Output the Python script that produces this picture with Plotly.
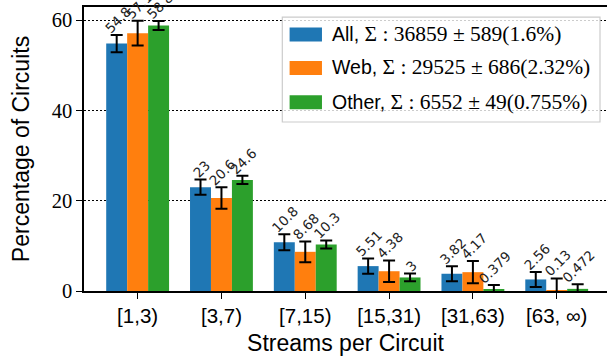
import plotly.graph_objects as go

categories = ["[1,3)", "[3,7)", "[7,15)", "[15,31)", "[31,63)", "[63, ∞)"]
series_names = ["All", "Web", "Other"]
sums = ["Σ : 36859 ± 589(1.6%)", "Σ : 29525 ± 686(2.32%)", "Σ : 6552 ± 49(0.755%)"]

all_vals = [54.8, 23.0, 10.8, 5.51, 3.82, 2.56]
web_vals = [57.1, 20.6, 8.68, 4.38, 4.17, 0.13]
other_vals = [58.8, 24.6, 10.3, 3.0, 0.379, 0.472]

all_labels = ["54.8", "23", "10.8", "5.51", "3.82", "2.56"]
web_labels = ["57.1", "20.6", "8.68", "4.38", "4.17", "0.13"]
other_labels = ["58.8", "24.6", "10.3", "3", "0.379", "0.472"]

all_err = [1.9, 1.7, 1.75, 1.7, 1.65, 1.65]
web_err = [2.75, 2.4, 2.3, 2.4, 2.45, 2.65]
other_err = [1.0, 0.9, 0.9, 0.85, 0.95, 1.0]

colors = ["#1f77b4", "#ff7f0e", "#2ca02c"]

W, H = 607, 364
ML, MR, MT, MB = 83.5, 0, 6.5, 73
PW, PH = W - ML - MR, H - MT - MB


def px2paper(x, y):
    return (x - ML) / PW, (H - MB - y) / PH


SANS = "Liberation Sans"
SERIF = "Liberation Serif"

vals = [all_vals, web_vals, other_vals]
labels = [all_labels, web_labels, other_labels]
errs = [all_err, web_err, other_err]
xs = list(range(len(categories)))
bw = 0.25

fig = go.Figure()
annotations = []
for k in range(3):
    fig.add_trace(go.Bar(
        x=xs, y=vals[k], name=series_names[k],
        marker=dict(color=colors[k], line=dict(width=0)),
        error_y=dict(type="data", array=errs[k], color="black", thickness=2, width=6),
        showlegend=False,
    ))
    for i in xs:
        annotations.append(dict(
            x=i + (k - 1) * bw, y=vals[k][i] + errs[k][i], xref="x", yref="y",
            text=labels[k][i], showarrow=False, textangle=-45,
            xanchor="center", yanchor="bottom", yshift=-4, xshift=1,
            font=dict(family="DejaVu Sans", size=13.5, color="#222"),
        ))

# custom legend
shapes = []
bx0, by0 = px2paper(282, 16.7)
bx1, by1 = px2paper(600, 121.7)
shapes.append(dict(type="rect", xref="paper", yref="paper", x0=bx0, y0=by0, x1=bx1, y1=by1,
                   fillcolor="rgba(255,255,255,0.8)", line=dict(color="#cccccc", width=1.2), layer="above"))
row_centers = [34, 67.5, 102]
for k in range(3):
    rx0, ry0 = px2paper(289.3, row_centers[k] - 7)
    rx1, ry1 = px2paper(321.7, row_centers[k] + 7)
    shapes.append(dict(type="rect", xref="paper", yref="paper", x0=rx0, y0=ry0, x1=rx1, y1=ry1,
                       fillcolor=colors[k], line=dict(width=0), layer="above"))
    tx, ty = px2paper(330, row_centers[k] - 0.5)
    annotations.append(dict(
        x=tx, y=ty, xref="paper", yref="paper", xanchor="left", yanchor="middle",
        showarrow=False,
        text=f"{series_names[k]}, <span style='font-family:{SERIF};font-size:21.5px'>{sums[k]}</span>",
        font=dict(family=SANS, size=19.5, color="black"),
    ))

fig.update_layout(
    width=W, height=H,
    margin=dict(l=ML, r=MR, t=MT, b=MB, pad=0, autoexpand=False),
    plot_bgcolor="white", paper_bgcolor="white",
    barmode="group", bargap=0.25, bargroupgap=0,
    shapes=shapes, annotations=annotations,
    showlegend=False,
)
fig.update_xaxes(
    range=[-0.64, 5.6], tickvals=xs, ticktext=categories, automargin=False,
    showline=True, linecolor="black", linewidth=1.5, mirror=True,
    ticks="outside", ticklen=6, tickwidth=1.3, tickcolor="black",
    showgrid=False, zeroline=False,
    tickfont=dict(family=SANS, size=20.5, color="black"),
    title=dict(text="Streams per Circuit", font=dict(family=SANS, size=23, color="black"), standoff=9),
)
fig.update_yaxes(
    range=[0, 62.9], tickvals=[0, 20, 40, 60], automargin=False,
    showline=True, linecolor="black", linewidth=1.5, mirror=True,
    ticks="outside", ticklen=6, tickwidth=1.3, tickcolor="black",
    showgrid=True, gridcolor="black", griddash="1.5px,2.5px", gridwidth=1.2,
    zeroline=False,
    tickfont=dict(family=SERIF, size=20.5, color="black"),
    title=dict(text="Percentage of Circuits", font=dict(family=SANS, size=23, color="black"), standoff=16),
)

fig.write_html("out.html", post_script="document.body.style.margin='0';",
               config={"displayModeBar": False})
